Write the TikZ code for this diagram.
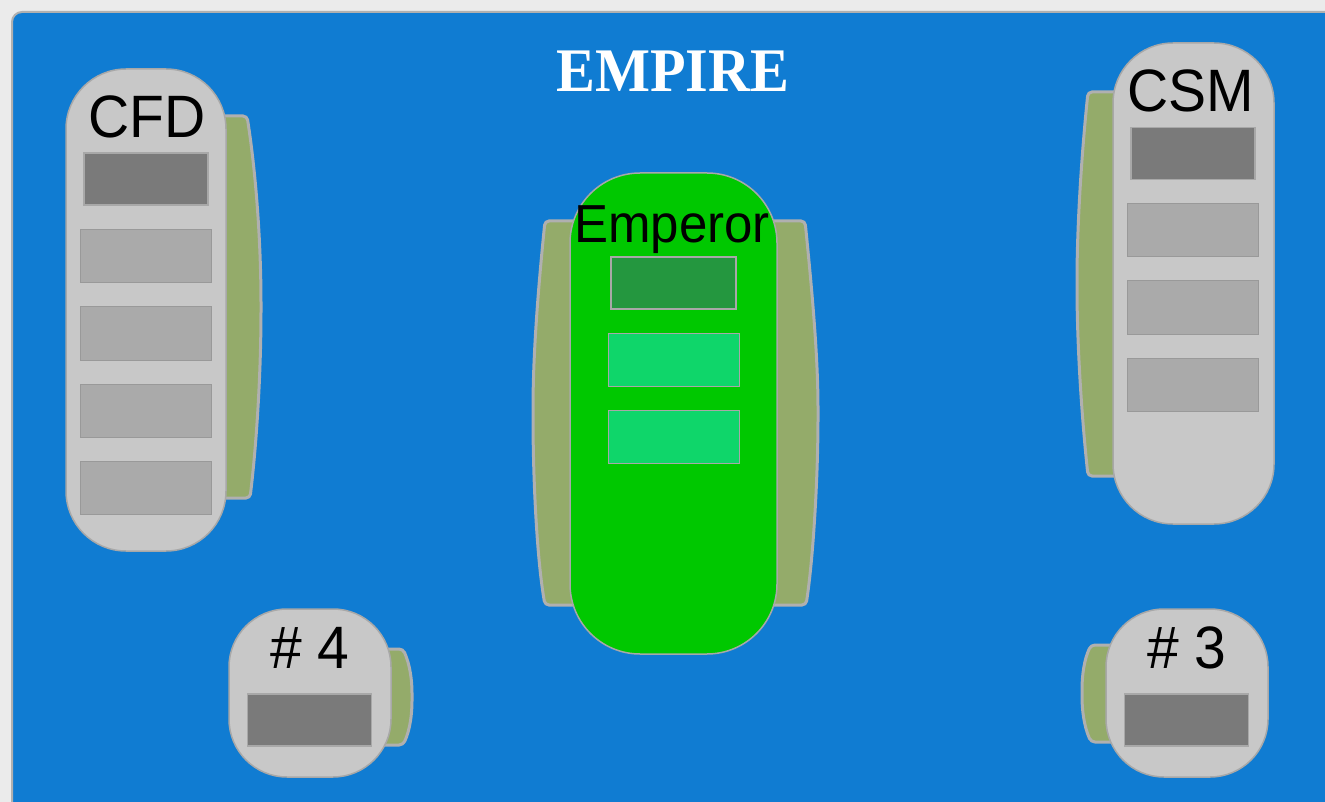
\documentclass[tikz,border=0pt]{standalone}
\usepackage{fontspec}
\setmainfont{Liberation Sans}
\newfontfamily\titlefont{Liberation Serif}
\definecolor{outerbg}{RGB}{235,235,235}
\definecolor{bgblue}{RGB}{16,124,210}
\definecolor{framegray}{RGB}{176,176,176}
\definecolor{bodygray}{RGB}{200,200,200}
\definecolor{edgegray}{RGB}{168,168,168}
\definecolor{darkslot}{RGB}{122,122,122}
\definecolor{lightslot}{RGB}{170,170,170}
\definecolor{panelgreen}{RGB}{148,171,106}
\definecolor{empgreen}{RGB}{0,200,0}
\definecolor{empdark}{RGB}{36,151,63}
\definecolor{emplight}{RGB}{15,214,106}
\tikzset{
  body/.style={draw=edgegray, line width=1.5pt, fill=bodygray, inner sep=0pt},
  panel/.style={draw=framegray, line width=3pt, fill=panelgreen, rounded corners=4pt},
  slotdark/.style={draw=edgegray, line width=1.2pt, fill=darkslot, inner sep=0pt, minimum width=124pt, minimum height=52pt},
  slotlight/.style={draw=lightslot!90!black, line width=1pt, fill=lightslot, inner sep=0pt, minimum width=131pt, minimum height=53pt},
  label/.style={anchor=base, font=\fontsize{57}{60}\selectfont, inner sep=0pt, text=black, yscale=1.05}
}
\begin{document}
\begin{tikzpicture}[x=1pt,y=-1pt]
\useasboundingbox (0,0) rectangle (1325,802);
\fill[outerbg] (0,0) rectangle (1325,802);
\draw[draw=framegray, line width=2pt, fill=bgblue, rounded corners=10pt] (12,12) rectangle (1345,822);
% title
\node[anchor=base, inner sep=0pt, text=white, font=\titlefont\bfseries\fontsize{62}{64}\selectfont, xscale=0.94] (title) at (673,92) {EMPIRE};

% ---------- CFD ----------
\draw[panel] (205,116) -- (247,116) .. controls (257,180) and (261,250) .. (261,307) .. controls (261,370) and (257,440) .. (250,498) -- (205,498) -- cycle;
\node[body, rounded corners=60pt, minimum width=160pt, minimum height=482pt] (cfd) at (146,310) {};
\node[label] (cfdlabel) at (147,138) {CFD};
\node[slotdark] (cfd1) at (146,179) {};
\node[slotlight] (cfd2) at (146,256.5) {};
\node[slotlight] (cfd3) at (146,333.5) {};
\node[slotlight] (cfd4) at (146,410.5) {};
\node[slotlight] (cfd5) at (146,487.5) {};

% ---------- Emperor ----------
\draw[panel] (580,221) -- (545,221) .. controls (537,300) and (533,360) .. (533,413) .. controls (533,480) and (537,560) .. (545,605) -- (580,605) -- cycle;
\draw[panel] (767,221) -- (805,221) .. controls (813,300) and (818,360) .. (818,413) .. controls (818,480) and (813,560) .. (806,605) -- (767,605) -- cycle;
\node[body, fill=empgreen, rounded corners=70pt, minimum width=207pt, minimum height=481pt] (emp) at (673.5,413.5) {};
\node[label, font=\fontsize{51}{54}\selectfont] (emplabel) at (672,243) {Emperor};
\node[slotdark, fill=empdark, minimum width=125pt] (emp1) at (673.5,283) {};
\node[slotlight, fill=emplight, draw=edgegray] (emp2) at (673.5,360) {};
\node[slotlight, fill=emplight, draw=edgegray] (emp3) at (673.5,437) {};

% ---------- CSM ----------
\draw[panel] (1125,92) -- (1088,92) .. controls (1081,160) and (1077,230) .. (1077,284) .. controls (1077,340) and (1081,410) .. (1088,476) -- (1125,476) -- cycle;
\node[body, rounded corners=60pt, minimum width=161pt, minimum height=481pt] (csm) at (1193.5,283.5) {};
\node[label] (csmlabel) at (1191,112) {CSM};
\node[slotdark] (csm1) at (1193,153.5) {};
\node[slotlight] (csm2) at (1193,230.5) {};
\node[slotlight] (csm3) at (1193,307.5) {};
\node[slotlight] (csm4) at (1193,384.5) {};

% ---------- #4 ----------
\draw[panel] (380,649) -- (403,649) .. controls (410,665) and (412,680) .. (412,697) .. controls (412,714) and (410,730) .. (403,745) -- (380,745) -- cycle;
\node[body, rounded corners=58pt, minimum width=162pt, minimum height=168pt] (n4) at (310,693) {};
\node[label] (n4label) at (310,668) {\# 4};
\node[slotdark] (n4slot) at (309.5,720) {};

% ---------- #3 ----------
\draw[panel] (1117,645) -- (1091,645) .. controls (1084,660) and (1082,676) .. (1082,693) .. controls (1082,710) and (1084,726) .. (1091,742) -- (1117,742) -- cycle;
\node[body, rounded corners=58pt, minimum width=162pt, minimum height=168pt] (n3) at (1187,693) {};
\node[label] (n3label) at (1187,668) {\# 3};
\node[slotdark] (n3slot) at (1186.5,720) {};
\end{tikzpicture}
\end{document}
